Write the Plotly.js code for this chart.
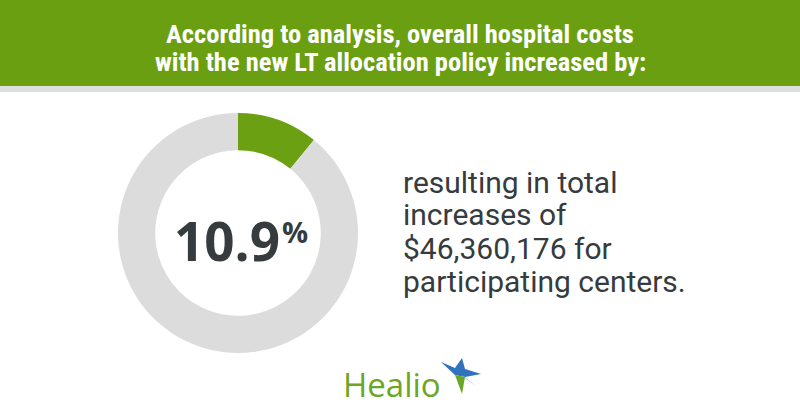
<!DOCTYPE html>
<html>
<head>
<meta charset="utf-8">
<script src="https://cdn.plot.ly/plotly-3.0.1.min.js"></script>
<style>html,body{margin:0;padding:0;background:#fff;}#chart{width:800px;height:420px;}</style>
</head>
<body>
<div id="chart"></div>
<script>
// ---- data ----
const sliceLabels = ["Increase", "Remainder"];
const sliceValues = [10.9, 89.1];
const sliceColors = ["#6aa012", "#dcdcdc"];
const headlineLines = ["According to analysis, overall hospital costs", "with the new LT allocation policy increased by:"];
const centerValue = "10.9";
const centerUnit = "%";
const bodyLines = ["resulting in total", "increases of", "$46,360,176 for", "participating centers."];
const brandName = "Healio";

// ---- layout helpers ----
const W = 800, H = 420;
const px = x => x / W;
const py = y => 1 - y / H;

const cx = 238, cy = 233, R = 120;

const trace = {
  type: "pie",
  labels: sliceLabels,
  values: sliceValues,
  marker: { colors: sliceColors, line: { width: 0 } },
  hole: 0.69,
  sort: false,
  direction: "clockwise",
  rotation: 0,
  textinfo: "none",
  hoverinfo: "label+value",
  showlegend: false,
  domain: { x: [px(cx - R), px(cx + R)], y: [py(cy + R), py(cy - R)] }
};

const dark = "#363b3e";
const annotations = [];
headlineLines.forEach((t, i) => {
  annotations.push({
    xref: "paper", yref: "paper", x: 0.5, y: py(33.5 + i * 28),
    xanchor: "center", yanchor: "middle", showarrow: false,
    text: "<b>" + t + "</b>",
    font: { family: "Roboto Condensed, Liberation Sans Narrow, DejaVu Sans Condensed, sans-serif", size: 26.5, color: "#ffffff" }
  });
});
annotations.push({
  xref: "paper", yref: "paper", x: px(281), y: py(241),
  xanchor: "right", yanchor: "middle", showarrow: false, borderpad: 0,
  text: "<b>" + centerValue + "</b>",
  font: { family: "Open Sans, sans-serif", size: 53, weight: 800, color: dark }
});
annotations.push({
  xref: "paper", yref: "paper", x: px(281), y: py(231),
  xanchor: "left", yanchor: "middle", showarrow: false, borderpad: 0,
  text: "<b>" + centerUnit + "</b>",
  font: { family: "Open Sans, sans-serif", size: 29, color: dark }
});
bodyLines.forEach((t, i) => {
  annotations.push({
    xref: "paper", yref: "paper", x: px(401), y: py(182 + i * 33),
    xanchor: "left", yanchor: "middle", showarrow: false,
    text: t,
    font: { family: "Roboto, sans-serif", size: 30, color: dark }
  });
});
annotations.push({
  xref: "paper", yref: "paper", x: px(341), y: py(384),
  xanchor: "left", yanchor: "middle", showarrow: false,
  text: brandName,
  font: { family: "Open Sans, sans-serif", size: 33, color: "#6ca626" }
});

const starX = px(460), starY = py(373);
const shapes = [
  { type: "rect", xref: "paper", yref: "paper", x0: 0, x1: 1, y0: py(86), y1: 1,
    fillcolor: "#6a9f12", line: { width: 0 }, layer: "below" },
  { type: "rect", xref: "paper", yref: "paper", x0: 0, x1: 1, y0: py(92), y1: py(86),
    fillcolor: "#dedede", line: { width: 0 }, layer: "below" },
  // logo star (blue part)
  { type: "path", xref: "paper", yref: "paper", xsizemode: "pixel", ysizemode: "pixel",
    xanchor: starX, yanchor: starY,
    path: "M -19 11 L -5 5 L 2 15 L 5 4 L 21 -1 L 5 -4 L -5 -2 Z",
    fillcolor: "#2f72bd", line: { width: 0 } },
  // logo star (light spike)
  { type: "path", xref: "paper", yref: "paper", xsizemode: "pixel", ysizemode: "pixel",
    xanchor: starX, yanchor: starY,
    path: "M 5 -4 L 17 -14 L 1 -2 Z",
    fillcolor: "#8fc0e6", line: { width: 0 } },
  // logo star (green part)
  { type: "path", xref: "paper", yref: "paper", xsizemode: "pixel", ysizemode: "pixel",
    xanchor: starX, yanchor: starY,
    path: "M 5 -4 L 2 -21 L -5 -2 Z",
    fillcolor: "#6ca626", line: { width: 0 } }
];

const layout = {
  width: W, height: H,
  margin: { l: 0, r: 0, t: 0, b: 0 },
  paper_bgcolor: "#ffffff",
  plot_bgcolor: "#ffffff",
  showlegend: false,
  annotations: annotations,
  shapes: shapes
};

Plotly.newPlot("chart", [trace], layout, { displayModeBar: false, staticPlot: true });
</script>
</body>
</html>
